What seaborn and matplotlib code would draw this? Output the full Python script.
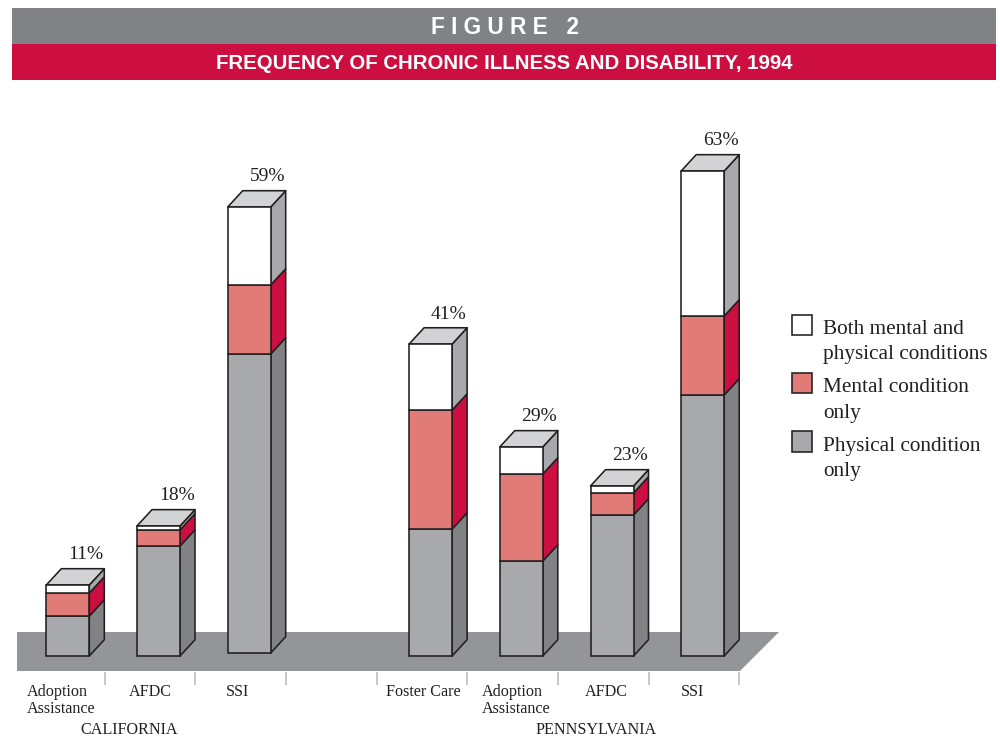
import matplotlib
matplotlib.use("Agg")
import matplotlib.pyplot as plt
from matplotlib.patches import Patch, Rectangle
from matplotlib.legend_handler import HandlerPatch
import numpy as np
import pandas as pd
import seaborn as sns

# ---- data (percent of children) ----
positions = [0, 1, 2, 4, 5, 6, 7]
programs = ["Adoption\nAssistance", "AFDC", "SSI", "Foster Care", "Adoption\nAssistance", "AFDC", "SSI"]
totals_label = ["11%", "18%", "59%", "41%", "29%", "23%", "63%"]
base = [0, 0, 0.39, 0, 0, 0, 0]
physical = [5.19, 14.29, 38.83, 16.49, 12.34, 18.31, 33.90]
mental = [2.99, 2.08, 8.96, 15.45, 11.30, 2.86, 10.26]
both = [1.04, 0.52, 10.13, 8.57, 3.51, 0.91, 18.83]
legend_labels = ["Both mental and\nphysical conditions", "Mental condition\nonly", "Physical condition\nonly"]
title_text = "F I G U R E   2"
subtitle_text = "FREQUENCY OF CHRONIC ILLNESS AND DISABILITY, 1994"

# ---- style ----
GRAY_FRONT = "#a7a9ac"
GRAY_SIDE = "#808285"
PINK = "#e07b78"
CRIMSON = "#cc0f40"
TOP = "#d1d3d4"
FLOOR = "#939598"
INK = "#231f20"
W, H = 1000, 736
PX_X = 90.7   # pixels per category step
PX_Y = 7.7    # pixels per percent
X0, Y0 = 67.8, 656
DX, DY = 15 / PX_X, 16.3 / PX_Y
BAR_W = 43 / PX_X
LW = 1.15
LABEL_SHIFT_PX = [1, 0, -4, 0, 3, 2, -2]

sns.set_theme(style="white")
plt.rcParams["font.family"] = ["Liberation Serif", "DejaVu Serif"]

df = pd.DataFrame({"pos": positions, "physical": physical, "mental": mental, "both": both, "base": base})
df["b_mental"] = df["base"] + df["physical"]
df["b_both"] = df["b_mental"] + df["mental"]
df["top"] = df["b_both"] + df["both"]

fig = plt.figure(figsize=(W / 100, H / 100), dpi=100, facecolor="white")
ax = fig.add_axes([0, 0, 1, 1])


def fx(px):
    return px / W


def fy(py):
    return 1 - py / H


def xdata(px):
    return (px - X0) / PX_X


def ydata(py):
    return (Y0 - py) / PX_Y


# floor slab
ax.fill([xdata(17), xdata(779), xdata(740), xdata(17)],
        [ydata(632), ydata(632), ydata(671), ydata(671)],
        color=FLOOR, lw=0, zorder=1)
# tick separators
ax.vlines(np.array([0, 1, 2, 3, 4, 5, 6, 7]) + 0.405, ydata(672), ydata(685), color="#bcbec0", lw=1.2, zorder=1)

# front faces, stacked
for col, bot, colr in [("physical", "base", GRAY_FRONT), ("mental", "b_mental", PINK), ("both", "b_both", "white")]:
    sns.barplot(data=df, x="pos", y=col, bottom=df[bot].to_numpy(), native_scale=True, width=BAR_W,
                color=colr, saturation=1, edgecolor=INK, linewidth=LW, ax=ax, zorder=4,
                errorbar=None, legend=False)

# side and top faces derived from the same values
for _, r in df.iterrows():
    xr = r["pos"] + BAR_W / 2
    xl = r["pos"] - BAR_W / 2
    for lo, hi, c in [(r["base"], r["b_mental"], GRAY_SIDE), (r["b_mental"], r["b_both"], CRIMSON), (r["b_both"], r["top"], GRAY_FRONT)]:
        ax.fill([xr, xr + DX, xr + DX, xr], [lo, lo + DY, hi + DY, hi], facecolor=c, edgecolor=INK, lw=LW, zorder=3, joinstyle="round")
    ax.fill([xl, xl + DX, xr + DX, xr], [r["top"], r["top"] + DY, r["top"] + DY, r["top"]],
            facecolor=TOP, edgecolor=INK, lw=LW, zorder=3, joinstyle="round")

# percent labels
for p, t, s in zip(positions, df["top"], totals_label):
    ax.text(p + 0.2, t + 3.9, s, ha="center", va="center", fontsize=14, color=INK, zorder=6)

ax.set_xlim(xdata(0), xdata(W))
ax.set_ylim(ydata(H), ydata(0))
ax.set_xticks([])
ax.set_yticks([])
ax.set_xlabel("")
ax.set_ylabel("")
sns.despine(ax=ax, left=True, bottom=True)

# category labels
for p, lab, sh in zip(positions, programs, LABEL_SHIFT_PX):
    ax.text(p - 0.085 + sh / PX_X, ydata(684.5), lab, ha="center", va="top",
            fontsize=11.6, color=INK, linespacing=1.05, multialignment="left", zorder=6)
fig.text(fx(129), fy(729.5), "CALIFORNIA", ha="center", va="center", fontsize=11.6, color=INK)
fig.text(fx(596), fy(729.5), "PENNSYLVANIA", ha="center", va="center", fontsize=11.6, color=INK)

# header bands
fig.add_artist(Rectangle((fx(12), fy(44)), fx(984), 36 / H, transform=fig.transFigure, facecolor=GRAY_SIDE, lw=0))
fig.add_artist(Rectangle((fx(12), fy(80)), fx(984), 36 / H, transform=fig.transFigure, facecolor=CRIMSON, lw=0))
fig.text(fx(505), fy(28), title_text, ha="center", va="center", color="white", fontsize=16.3,
         fontweight="bold", family="Liberation Sans")
fig.text(fx(504), fy(63.5), subtitle_text, ha="center", va="center", color="white", fontsize=14.7,
         fontweight="bold", family="Liberation Sans")


# legend: swatch sits beside the first text line
def first_line_swatch(legend, orig_handle, xdescent, ydescent, width, height, fontsize):
    return Rectangle((-xdescent, -ydescent + 12.5), width, height)


FS = 15.3
handles = [Patch(facecolor=c, edgecolor=INK, lw=LW, label=l) for c, l in zip(["white", PINK, GRAY_FRONT], legend_labels)]
leg = ax.legend(handles=handles, loc="upper left", bbox_to_anchor=(fx(792), fy(320)), bbox_transform=fig.transFigure,
                frameon=False, fontsize=FS, handlelength=0.94, handleheight=1.08, handletextpad=0.52,
                labelspacing=0.66, borderpad=0, borderaxespad=0, labelcolor=INK,
                handler_map={Patch: HandlerPatch(patch_func=first_line_swatch)})
for t in leg.get_texts():
    t.set_linespacing(1.46)

fig.savefig("out.png", dpi=100)
